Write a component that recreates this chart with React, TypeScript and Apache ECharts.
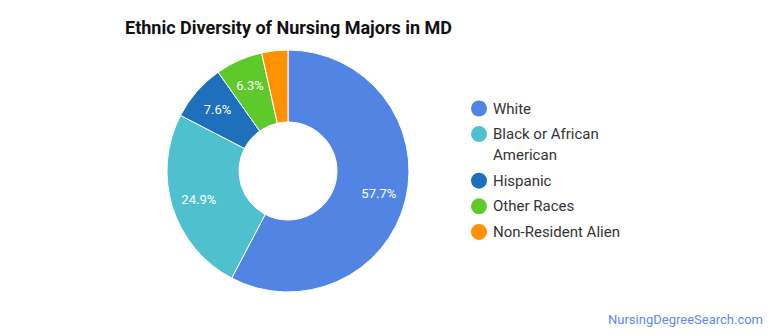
import React, { useEffect, useRef } from "react";
import * as echarts from "echarts";

const categories = ["White", "Black or African American", "Hispanic", "Other Races", "Non-Resident Alien"];
const legendLines = [["White"], ["Black or African", "American"], ["Hispanic"], ["Other Races"], ["Non-Resident Alien"]];
const shares = [57.7, 24.9, 7.6, 6.3, 3.5];
const colors = ["#5285E3", "#4FC1CE", "#1F70BC", "#5DC92A", "#FF9200"];
const titleText = "Ethnic Diversity of Nursing Majors in MD";
const sourceText = "NursingDegreeSearch.com";

export default function App() {
  const ref = useRef<HTMLDivElement>(null);
  useEffect(() => {
    if (!ref.current) return;
    const chart = echarts.init(ref.current, undefined, { renderer: "svg" });
    const data = categories.map((name, i) => ({ name, value: shares[i], itemStyle: { color: colors[i] } }));
    const rich: Record<string, any> = {
      t: { fontFamily: "Roboto", fontSize: 15, color: "#333", lineHeight: 21, padding: [0, 0, 0, 6] },
      s: { width: 16, height: 16 },
    };
    colors.forEach((c, i) => {
      rich["i" + i] = { width: 16, height: 16, borderRadius: 8, backgroundColor: c };
    });
    const fmt = (n: string) => {
      const i = categories.indexOf(n);
      return legendLines[i]
        .map((line, k) => (k === 0 ? `{i${i}|}{t|${line}}` : `{s|}{t|${line}}`))
        .join("\n");
    };
    chart.setOption({
      animation: false,
      backgroundColor: "#ffffff",
      title: {
        text: titleText,
        left: 120,
        top: 13,
        textStyle: { fontFamily: "Roboto", fontSize: 18, fontWeight: "bold", color: "#111" },
      },
      legend: {
        orient: "vertical",
        left: 460,
        top: 93,
        icon: "circle",
        itemWidth: 0,
        itemHeight: 0,
        itemGap: 4.6,
        data: categories,
        formatter: fmt,
        textStyle: { fontFamily: "Roboto", fontSize: 15, color: "#333", lineHeight: 21, rich },
      },
      graphic: [
        {
          type: "text",
          right: 7,
          top: 313,
          style: { text: sourceText, fontFamily: "Roboto", fontSize: 13, fill: "#5B8CE6" },
        },
      ],
      series: [
        {
          type: "pie",
          center: [288, 171],
          radius: [49, 121],
          startAngle: 90,
          clockwise: true,
          itemStyle: { borderColor: "#fff", borderWidth: 1 },
          label: { show: false },
          labelLine: { show: false },
          emphasis: { disabled: true },
          data,
        },
        {
          type: "pie",
          center: [288, 171],
          radius: [60, 121],
          startAngle: 90,
          clockwise: true,
          silent: true,
          itemStyle: { color: "transparent", borderWidth: 0 },
          label: {
            show: true,
            position: "inside",
            color: "#fff",
            fontFamily: "Roboto",
            fontSize: 13,
            formatter: (p: any) => (p.value < 5 ? "" : p.value.toFixed(1) + "%"),
          },
          labelLine: { show: false },
          emphasis: { disabled: true },
          data: categories.map((name, i) => ({ name, value: shares[i], itemStyle: { color: "transparent" } })),
        },
      ],
    });
    return () => chart.dispose();
  }, []);
  return <div ref={ref} style={{ position: "fixed", left: 0, top: 0, width: 770, height: 335 }} />;
}
